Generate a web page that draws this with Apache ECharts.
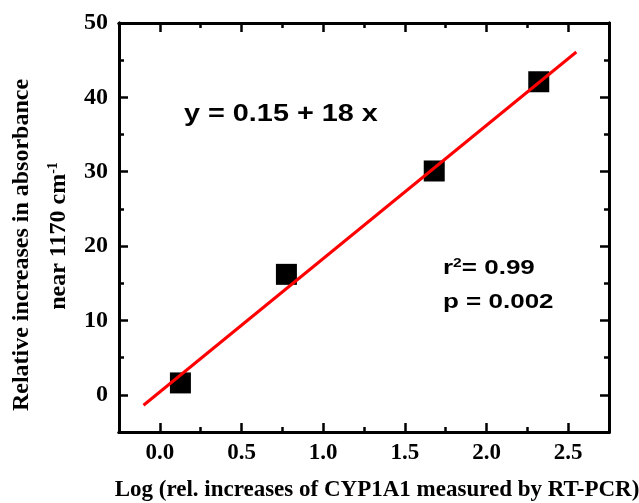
<!DOCTYPE html>
<html>
<head>
<meta charset="utf-8">
<style>
    html, body { margin: 0; padding: 0; background: #fff; }
    #chart { width: 639px; height: 503px; }
</style>
</head>
<body>
<div id="chart"></div>
<script src="https://cdn.jsdelivr.net/npm/echarts@6/dist/echarts.min.js"></script>
<script>
    // measured points (log fold change, absorbance increase)
    var xVals = [0.126, 0.775, 1.68, 2.32];
    var yVals = [1.6, 16.2, 30.1, 42.1];
    // fitted line end points
    var fitX = [-0.1, 2.55];
    var fitY = [-1.4, 46.1];

    var xMajor = [0, 0.5, 1.0, 1.5, 2.0, 2.5];
    var xMinor = [0.25, 0.75, 1.25, 1.75, 2.25];
    var yMajor = [0, 10, 20, 30, 40, 50];
    var yMinor = [5, 15, 25, 35, 45];

    var serif = '"Liberation Serif", "DejaVu Serif", serif';
    var sans = '"Liberation Sans", Arial, sans-serif';

    var dom = document.getElementById('chart');
    var myChart = echarts.init(dom);

    var line = { show: true, onZero: false, lineStyle: { color: '#000', width: 3 } };

    function xAx(pos, ticks, len, labels) {
        return {
            type: 'value', position: pos, min: -0.25, max: 2.75,
            axisLine: line,
            axisTick: { show: true, inside: true, length: len, customValues: ticks, lineStyle: { color: '#000', width: 2.5 } },
            axisLabel: labels ? {
                show: true, customValues: ticks, margin: 10, color: '#000',
                fontFamily: serif, fontWeight: 'bold', fontSize: 23,
                formatter: function (v) { return v.toFixed(1); }
            } : { show: false },
            splitLine: { show: false }
        };
    }
    function yAx(pos, ticks, len, labels) {
        return {
            type: 'value', position: pos, min: -5, max: 50,
            axisLine: line,
            axisTick: { show: true, inside: true, length: len, customValues: ticks, lineStyle: { color: '#000', width: 2.5 } },
            axisLabel: labels ? {
                show: true, customValues: ticks, margin: 11, color: '#000',
                fontFamily: serif, fontWeight: 'bold', fontSize: 24
            } : { show: false },
            splitLine: { show: false }
        };
    }

    var pts = [];
    for (var i = 0; i < xVals.length; i++) pts.push([xVals[i], yVals[i]]);
    var fit = [[fitX[0], fitY[0]], [fitX[1], fitY[1]]];

    var option = {
        animation: false,
        backgroundColor: '#fff',
        grid: { left: 119, right: 30, top: 23, bottom: 71 },
        xAxis: [
            xAx('bottom', xMajor, 9, true),
            xAx('bottom', xMinor, 5, false),
            xAx('top', xMajor, 9, false),
            xAx('top', xMinor, 5, false)
        ],
        yAxis: [
            yAx('left', yMajor, 9, true),
            yAx('left', yMinor, 5, false),
            yAx('right', yMajor, 9, false),
            yAx('right', yMinor, 5, false)
        ],
        series: [
            {
                type: 'scatter',
                data: pts,
                symbol: 'rect',
                symbolSize: 21,
                itemStyle: { color: '#000', opacity: 1 },
                z: 2
            },
            {
                type: 'line',
                data: fit,
                showSymbol: false,
                lineStyle: { color: '#ff0000', width: 3 },
                z: 3
            }
        ],
        graphic: [
            {
                type: 'text', x: 184, y: 114, scaleX: 1.2,
                style: { text: 'y = 0.15 + 18 x', fill: '#000', font: 'bold 24px ' + sans, verticalAlign: 'middle' }
            },
            {
                type: 'text', x: 443, y: 268, scaleX: 1.3,
                style: {
                    text: '{a|r}{s|2}{a|= 0.99}',
                    verticalAlign: 'middle',
                    rich: {
                        a: { fontFamily: sans, fontWeight: 'bold', fontSize: 20, fill: '#000' },
                        s: { fontFamily: sans, fontWeight: 'bold', fontSize: 12, fill: '#000', verticalAlign: 'top', padding: [0, 0, 8, 0] }
                    }
                }
            },
            {
                type: 'text', x: 443, y: 302, scaleX: 1.3,
                style: { text: 'p = 0.002', fill: '#000', font: 'bold 20px ' + sans, verticalAlign: 'middle' }
            },
            {
                type: 'text', x: 22, y: 245, rotation: Math.PI / 2,
                style: {
                    text: 'Relative increases in absorbance', fill: '#000',
                    font: 'bold 24px ' + serif, align: 'center', verticalAlign: 'middle'
                }
            },
            {
                type: 'text', x: 59, y: 236, rotation: Math.PI / 2,
                style: {
                    text: '{a|near 1170 cm}{s|-1}',
                    align: 'center', verticalAlign: 'middle',
                    rich: {
                        a: { fontFamily: serif, fontWeight: 'bold', fontSize: 24, fill: '#000' },
                        s: { fontFamily: serif, fontWeight: 'bold', fontSize: 14, fill: '#000', verticalAlign: 'top', padding: [0, 0, 12, 0] }
                    }
                }
            },
            {
                type: 'text', x: 377, y: 490,
                style: {
                    text: 'Log (rel. increases of CYP1A1 measured by RT-PCR)', fill: '#000',
                    font: 'bold 23px ' + serif, align: 'center', verticalAlign: 'middle'
                }
            }
        ]
    };

    if (option && typeof option === "object") {
        myChart.setOption(option, true);
    }
</script>
</body>
</html>
